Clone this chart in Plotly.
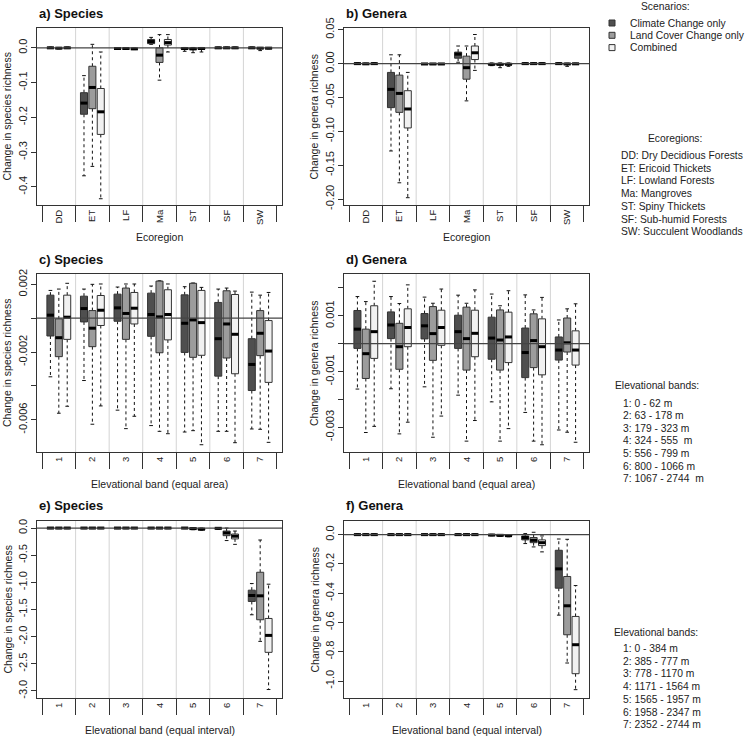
import plotly.graph_objects as go

# ---------------- data ----------------
scenarios = ["Climate Change only", "Land Cover Change only", "Combined"]
ecoregions = ["DD", "ET", "LF", "Ma", "ST", "SF", "SW"]
bands = ["1", "2", "3", "4", "5", "6", "7"]

# five-number summaries per category: (lower whisker, Q1, median, Q3, upper whisker)
a_cc = [(-0.002, -0.001, 0.0, 0.001, 0.002), (-0.368, -0.191, -0.159, -0.129, -0.080),
        (-0.004, -0.003, -0.002, -0.001, 0.0), (0.010, 0.012, 0.018, 0.024, 0.030),
        (-0.010, -0.004, -0.002, 0.0, 0.001), (-0.002, -0.001, 0.0, 0.001, 0.002),
        (-0.002, -0.001, 0.0, 0.001, 0.002)]
a_lc = [(-0.003, -0.002, -0.001, 0.0, 0.001), (-0.341, -0.175, -0.114, -0.053, 0.010),
        (-0.004, -0.003, -0.002, -0.001, 0.0), (-0.093, -0.042, -0.021, 0.0, 0.038),
        (-0.014, -0.005, -0.003, -0.001, 0.001), (-0.002, -0.001, 0.0, 0.001, 0.002),
        (-0.008, -0.002, -0.001, 0.0, 0.001)]
a_cb = [(-0.002, -0.001, 0.0, 0.001, 0.002), (-0.434, -0.249, -0.184, -0.117, -0.012),
        (-0.005, -0.004, -0.003, -0.002, -0.001), (-0.012, 0.008, 0.015, 0.024, 0.038),
        (-0.012, -0.004, -0.002, 0.0, 0.001), (-0.002, -0.001, 0.0, 0.001, 0.002),
        (-0.003, -0.002, -0.001, 0.0, 0.001)]

b_cc = [(-0.001, -0.0005, 0.0, 0.0005, 0.001), (-0.129, -0.065, -0.038, -0.013, 0.013),
        (-0.001, -0.0008, -0.0005, -0.0002, 0.0), (0.002, 0.008, 0.014, 0.017, 0.026),
        (-0.003, -0.0015, -0.001, 0.0, 0.001), (-0.001, -0.0005, 0.0, 0.0005, 0.001),
        (-0.001, -0.0005, 0.0, 0.0005, 0.001)]
b_lc = [(-0.001, -0.0007, -0.0003, 0.0, 0.0005), (-0.176, -0.072, -0.044, -0.017, 0.013),
        (-0.001, -0.0008, -0.0005, -0.0002, 0.0), (-0.055, -0.023, -0.006, 0.011, 0.026),
        (-0.006, -0.002, -0.001, 0.0, 0.001), (-0.001, -0.0005, 0.0, 0.0005, 0.001),
        (-0.004, -0.001, -0.0005, 0.0, 0.0005)]
b_cb = [(-0.001, -0.0005, 0.0, 0.0005, 0.001), (-0.198, -0.095, -0.067, -0.040, -0.013),
        (-0.001, -0.0008, -0.0005, -0.0002, 0.0), (-0.010, 0.006, 0.016, 0.026, 0.043),
        (-0.004, -0.0015, -0.001, 0.0, 0.001), (-0.001, -0.0005, 0.0, 0.0005, 0.001),
        (-0.001, -0.0007, -0.0003, 0.0, 0.0005)]

c_cc = [(-0.00346, -0.00105, 0.00018, 0.00136, 0.00164), (-0.00368, -0.00022, 0.00057, 0.00130, 0.00172),
        (-0.00543, -0.00018, 0.00061, 0.00142, 0.00184), (-0.00634, -0.00107, 0.00022, 0.00148, 0.00190),
        (-0.00672, -0.00202, -0.00030, 0.00138, 0.00186), (-0.00668, -0.00342, -0.00121, 0.00093, 0.00172),
        (-0.00654, -0.00427, -0.00273, -0.00121, 0.00154)]
c_lc = [(-0.00561, -0.00227, -0.00115, -0.00004, 0.00172), (-0.00626, -0.00168, -0.00059, 0.00045, 0.00200),
        (-0.00652, -0.00125, 0.00028, 0.00178, 0.00202), (-0.00668, -0.00204, 0.00008, 0.00219, 0.00221),
        (-0.00664, -0.00231, -0.00010, 0.00206, 0.00208), (-0.00668, -0.00235, -0.00034, 0.00162, 0.00178),
        (-0.00656, -0.00221, -0.00089, 0.00045, 0.00136)]
c_cb = [(-0.00520, -0.00125, 0.00006, 0.00136, 0.00206), (-0.00518, -0.00043, 0.00047, 0.00134, 0.00202),
        (-0.00579, -0.00034, 0.00059, 0.00152, 0.00202), (-0.00682, -0.00128, 0.00022, 0.00168, 0.00202),
        (-0.00747, -0.00219, -0.00026, 0.00164, 0.00182), (-0.00735, -0.00328, -0.00095, 0.00140, 0.00160),
        (-0.00733, -0.00379, -0.00194, -0.00014, 0.00152)]

d_cc = [(-0.00163, -0.00017, 0.00052, 0.00119, 0.00169), (-0.00162, 0.00018, 0.00067, 0.00114, 0.00169),
        (-0.00155, 0.00017, 0.00064, 0.00108, 0.00167), (-0.00185, -0.00017, 0.00043, 0.00102, 0.00174),
        (-0.00209, -0.00056, 0.00020, 0.00095, 0.00178), (-0.00247, -0.00122, -0.00032, 0.00056, 0.00175),
        (-0.00310, -0.00059, -0.00023, 0.00024, 0.00085)]
d_lc = [(-0.00319, -0.00125, -0.00036, 0.00052, 0.00151), (-0.00324, -0.00092, -0.00011, 0.00073, 0.00144),
        (-0.00336, -0.00060, 0.00036, 0.00133, 0.00145), (-0.00350, -0.00095, 0.00018, 0.00131, 0.00145),
        (-0.00350, -0.00095, 0.00013, 0.00121, 0.00136), (-0.00350, -0.00086, 0.00011, 0.00107, 0.00121),
        (-0.00318, -0.00030, 0.00003, 0.00092, 0.00125)]
d_cb = [(-0.00297, -0.00053, 0.00043, 0.00136, 0.00224), (-0.00282, -0.00011, 0.00058, 0.00125, 0.00211),
        (-0.00260, -0.00006, 0.00058, 0.00120, 0.00196), (-0.00276, -0.00047, 0.00037, 0.00120, 0.00193),
        (-0.00305, -0.00068, 0.00024, 0.00113, 0.00190), (-0.00363, -0.00112, -0.00011, 0.00089, 0.00166),
        (-0.00354, -0.00077, -0.00023, 0.00046, 0.00143)]

e_cc = [(-0.01, -0.005, 0.0, 0.005, 0.01), (-0.01, -0.005, 0.0, 0.005, 0.01),
        (-0.01, -0.005, 0.0, 0.005, 0.01), (-0.01, -0.005, 0.0, 0.005, 0.01),
        (-0.01, -0.005, 0.0, 0.005, 0.01), (-0.02, -0.01, -0.005, 0.0, 0.005),
        (-1.597, -1.352, -1.242, -1.144, -1.022)]
e_lc = [(-0.01, -0.005, 0.0, 0.005, 0.01), (-0.01, -0.005, 0.0, 0.005, 0.01),
        (-0.01, -0.005, 0.0, 0.005, 0.01), (-0.01, -0.005, 0.0, 0.005, 0.01),
        (-0.03, -0.02, -0.01, 0.0, 0.005), (-0.23, -0.14, -0.09, -0.055, 0.0),
        (-2.087, -1.689, -1.248, -0.814, -0.22)]
e_cb = [(-0.01, -0.005, 0.0, 0.005, 0.01), (-0.01, -0.005, 0.0, 0.005, 0.01),
        (-0.01, -0.005, 0.0, 0.005, 0.01), (-0.01, -0.005, 0.0, 0.005, 0.01),
        (-0.04, -0.03, -0.02, -0.01, 0.0), (-0.30, -0.20, -0.15, -0.11, -0.055),
        (-2.974, -2.289, -1.977, -1.665, -1.034)]

f_cc = [(-0.004, -0.002, 0.0, 0.002, 0.004), (-0.004, -0.002, 0.0, 0.002, 0.004),
        (-0.004, -0.002, 0.0, 0.002, 0.004), (-0.004, -0.002, 0.0, 0.002, 0.004),
        (-0.008, -0.005, -0.003, 0.0, 0.002), (-0.061, -0.036, -0.020, -0.009, 0.007),
        (-0.55, -0.366, -0.234, -0.107, -0.03)]
f_lc = [(-0.004, -0.002, 0.0, 0.002, 0.004), (-0.004, -0.002, 0.0, 0.002, 0.004),
        (-0.004, -0.002, 0.0, 0.002, 0.004), (-0.004, -0.002, 0.0, 0.002, 0.004),
        (-0.012, -0.008, -0.005, -0.002, 0.0), (-0.084, -0.055, -0.039, -0.020, 0.016),
        (-0.877, -0.684, -0.486, -0.286, -0.032)]
f_cb = [(-0.004, -0.002, 0.0, 0.002, 0.004), (-0.004, -0.002, 0.0, 0.002, 0.004),
        (-0.004, -0.002, 0.0, 0.002, 0.004), (-0.004, -0.002, 0.0, 0.002, 0.004),
        (-0.015, -0.010, -0.007, -0.004, 0.0), (-0.118, -0.075, -0.055, -0.036, -0.009),
        (-1.059, -0.95, -0.752, -0.559, -0.348)]

a_ticks = [0.0, -0.1, -0.2, -0.3, -0.4]
a_labels = ["0.0", "-0.1", "-0.2", "-0.3", "-0.4"]
b_ticks = [0.05, 0.0, -0.05, -0.10, -0.15, -0.20]
b_labels = ["0.05", "0.00", "-0.05", "-0.10", "-0.15", "-0.20"]
c_ticks = [0.002, 0.0, -0.002, -0.004, -0.006]
c_labels = ["0.002", "", "-0.002", "", "-0.006"]
d_ticks = [0.002, 0.001, 0.0, -0.001, -0.002, -0.003]
d_labels = ["", "0.001", "", "-0.001", "", "-0.003"]
e_ticks = [0.0, -0.5, -1.0, -1.5, -2.0, -2.5, -3.0]
e_labels = ["0.0", "-0.5", "-1.0", "-1.5", "-2.0", "-2.5", "-3.0"]
f_ticks = [0.0, -0.2, -0.4, -0.6, -0.8, -1.0]
f_labels = ["0.0", "-0.2", "-0.4", "-0.6", "-0.8", "-1.0"]

ecoregion_names = ["DD: Dry Decidious Forests", "ET: Ericoid Thickets", "LF: Lowland Forests",
                   "Ma: Mangroves", "ST: Spiny Thickets", "SF: Sub-humid Forests",
                   "SW: Succulent Woodlands"]
area_bands = ["1: 0 - 62 m", "2: 63 - 178 m", "3: 179 - 323 m", "4: 324 - 555  m",
              "5: 556 - 799 m", "6: 800 - 1066 m", "7: 1067 - 2744  m"]
interval_bands = ["1: 0 - 384 m", "2: 385 - 777 m", "3: 778 - 1170 m", "4: 1171 - 1564 m",
                  "5: 1565 - 1957 m", "6: 1958 - 2347 m", "7: 2352 - 2744 m"]

# ---------------- styling ----------------
W, H = 746, 738
FONT = "Liberation Sans, Arial, sans-serif"
fills = ["#4f4f4f", "#9c9c9c", "#f1f1f1"]
offsets = [-0.25, 0.0, 0.25]
BOXW = 0.21
CAPW = 0.055

panels = [
    dict(title="a) Species", data=[a_cc, a_lc, a_cb], cats=ecoregions, rng=[-0.452, 0.057],
         ticks=a_ticks, labels=a_labels, ytitle="Change in species richness", xtitle="Ecoregion",
         px=(37, 282, 28, 205)),
    dict(title="b) Genera", data=[b_cc, b_lc, b_cb], cats=ecoregions, rng=[-0.2088, 0.0526],
         ticks=b_ticks, labels=b_labels, ytitle="Change in genera richness", xtitle="Ecoregion",
         px=(344, 589, 28, 205)),
    dict(title="c) Species", data=[c_cc, c_lc, c_cb], cats=bands, rng=[-0.0079, 0.00261],
         ticks=c_ticks, labels=c_labels, ytitle="Change in species richness",
         xtitle="Elevational band (equal area)", px=(37, 282, 274, 452)),
    dict(title="d) Genera", data=[d_cc, d_lc, d_cb], cats=bands, rng=[-0.00389, 0.0025],
         ticks=d_ticks, labels=d_labels, ytitle="Change in genera richness",
         xtitle="Elevational band (equal area)", px=(344, 589, 274, 452)),
    dict(title="e) Species", data=[e_cc, e_lc, e_cb], cats=bands, rng=[-3.13, 0.13],
         ticks=e_ticks, labels=e_labels, ytitle="Change in species richness",
         xtitle="Elevational band (equal interval)", px=(37, 282, 521, 698)),
    dict(title="f) Genera", data=[f_cc, f_lc, f_cb], cats=bands, rng=[-1.116, 0.093],
         ticks=f_ticks, labels=f_labels, ytitle="Change in genera richness",
         xtitle="Elevational band (equal interval)", px=(344, 589, 521, 698)),
]

fig = go.Figure()
shapes = []
annotations = []
layout = {}


def px2x(x):
    return x / W


def px2y(y):
    return 1 - y / H


for pi, p in enumerate(panels):
    n = pi + 1
    xa = "x" if n == 1 else f"x{n}"
    ya = "y" if n == 1 else f"y{n}"
    xl = "xaxis" if n == 1 else f"xaxis{n}"
    yl = "yaxis" if n == 1 else f"yaxis{n}"
    x0, x1, y0, y1 = p["px"]
    ncat = len(p["cats"])
    pos = list(range(1, ncat + 1))

    for j, series in enumerate(p["data"]):
        wx, wy, cx, cy = [], [], [], []
        for c, (lo, q1, med, q3, hi) in zip(pos, series):
            xc = c + offsets[j]
            wx += [xc, xc, None, xc, xc, None]
            wy += [q3, hi, None, q1, lo, None]
            cx += [xc - CAPW, xc + CAPW, None, xc - CAPW, xc + CAPW, None]
            cy += [hi, hi, None, lo, lo, None]
        fig.add_trace(go.Scatter(x=wx, y=wy, xaxis=xa, yaxis=ya, mode="lines",
                                 line=dict(color="#111", width=1, dash="3px,3px"),
                                 hoverinfo="skip", showlegend=False))
        fig.add_trace(go.Scatter(x=cx, y=cy, xaxis=xa, yaxis=ya, mode="lines",
                                 line=dict(color="#111", width=1),
                                 hoverinfo="skip", showlegend=False))
    for j, series in enumerate(p["data"]):
        bx, by, mx, my = [], [], [], []
        for c, (lo, q1, med, q3, hi) in zip(pos, series):
            xc = c + offsets[j]
            bx += [xc - BOXW / 2, xc + BOXW / 2, xc + BOXW / 2, xc - BOXW / 2, xc - BOXW / 2, None]
            by += [q1, q1, q3, q3, q1, None]
            mx += [xc - BOXW / 2, xc + BOXW / 2, None]
            my += [med, med, None]
        fig.add_trace(go.Scatter(x=bx, y=by, xaxis=xa, yaxis=ya, mode="lines", fill="toself",
                                 fillcolor=fills[j], line=dict(color="#333", width=1),
                                 name=scenarios[j], hoverinfo="skip", showlegend=False))
        fig.add_trace(go.Scatter(x=mx, y=my, xaxis=xa, yaxis=ya, mode="lines",
                                 line=dict(color="#000", width=3),
                                 hoverinfo="skip", showlegend=False))

    layout[xl] = dict(
        domain=[px2x(x0), px2x(x1)], anchor=ya, range=[0.35, ncat + 0.65], automargin=False,
        tickmode="array", tickvals=pos, ticktext=p["cats"], ticks="", tickangle=-90,
        tickfont=dict(family=FONT, size=9.5, color="#222"),
        minor=dict(tickmode="array", tickvals=[k + 0.5 for k in range(0, ncat + 1)],
                   ticks="outside", ticklen=16, tickcolor="#333", tickwidth=1, showgrid=False),
        showline=True, mirror=True, linecolor="#333", linewidth=1,
        showgrid=False, zeroline=False, fixedrange=True)
    layout[yl] = dict(
        domain=[px2y(y1), px2y(y0)], anchor=xa, range=p["rng"], automargin=False,
        tickmode="array", tickvals=p["ticks"], ticktext=p["labels"],
        ticks="outside", ticklen=5, tickcolor="#333", tickangle=-90,
        tickfont=dict(family=FONT, size=11, color="#222"),
        showline=True, mirror=True, linecolor="#333", linewidth=1,
        showgrid=False, zeroline=False, fixedrange=True)

    for k in range(1, ncat):
        shapes.append(dict(type="line", xref=xa, yref=f"{ya} domain", x0=k + 0.5, x1=k + 0.5,
                           y0=0, y1=1, line=dict(color="#d4d4d4", width=1), layer="below"))
    shapes.append(dict(type="line", xref=f"{xa} domain", yref=ya, x0=0, x1=1, y0=0, y1=0,
                       line=dict(color="#444", width=1.3), layer="above"))

    annotations.append(dict(text=f"<b>{p['title']}</b>", x=px2x(x0), y=px2y(y0 - 15),
                            xref="paper", yref="paper", xanchor="left", yanchor="middle",
                            showarrow=False, font=dict(family=FONT, size=13, color="#111")))
    annotations.append(dict(text=p["ytitle"], x=px2x(x0 - 30), y=px2y((y0 + y1) / 2),
                            xref="paper", yref="paper", xanchor="center", yanchor="middle",
                            textangle=-90, showarrow=False,
                            font=dict(family=FONT, size=10.5, color="#222")))
    annotations.append(dict(text=p["xtitle"], x=px2x((x0 + x1) / 2), y=px2y(y1 + 32),
                            xref="paper", yref="paper", xanchor="center", yanchor="middle",
                            showarrow=False, font=dict(family=FONT, size=10.5, color="#222")))

# ---------------- side legends ----------------
TXT = dict(family=FONT, size=10.3, color="#222")
annotations.append(dict(text="Scenarios:", x=px2x(665), y=px2y(7), xref="paper", yref="paper",
                        xanchor="center", yanchor="middle", showarrow=False, font=TXT))
for j, name in enumerate(scenarios):
    yc = 23 + 12.3 * j
    shapes.append(dict(type="rect", xref="paper", yref="paper",
                       x0=px2x(609), x1=px2x(615), y0=px2y(yc + 3), y1=px2y(yc - 3),
                       fillcolor=fills[j], line=dict(color="#333", width=1)))
    annotations.append(dict(text=name, x=px2x(628), y=px2y(yc), xref="paper", yref="paper",
                            xanchor="left", yanchor="middle", showarrow=False, font=TXT))

annotations.append(dict(text="Ecoregions:", x=px2x(675), y=px2y(139), xref="paper", yref="paper",
                        xanchor="center", yanchor="middle", showarrow=False, font=TXT))
for k, t in enumerate(ecoregion_names):
    annotations.append(dict(text=t, x=px2x(619), y=px2y(155.5 + 12.7 * k), xref="paper", yref="paper",
                            xanchor="left", yanchor="middle", showarrow=False, font=TXT))

annotations.append(dict(text="Elevational bands:", x=px2x(613), y=px2y(386), xref="paper", yref="paper",
                        xanchor="left", yanchor="middle", showarrow=False, font=TXT))
for k, t in enumerate(area_bands):
    annotations.append(dict(text=t, x=px2x(621), y=px2y(403 + 12.6 * k), xref="paper", yref="paper",
                            xanchor="left", yanchor="middle", showarrow=False, font=TXT))

annotations.append(dict(text="Elevational bands:", x=px2x(612), y=px2y(632), xref="paper", yref="paper",
                        xanchor="left", yanchor="middle", showarrow=False, font=TXT))
for k, t in enumerate(interval_bands):
    annotations.append(dict(text=t, x=px2x(621), y=px2y(648.5 + 12.7 * k), xref="paper", yref="paper",
                            xanchor="left", yanchor="middle", showarrow=False, font=TXT))

fig.update_layout(
    width=W, height=H, margin=dict(l=0, r=0, t=0, b=0, autoexpand=False),
    paper_bgcolor="white", plot_bgcolor="white", showlegend=False,
    font=dict(family=FONT, size=11, color="#222"),
    shapes=shapes, annotations=annotations, **layout)

fig.write_html("out.html", config={"displayModeBar": False},
               post_script="document.body.style.margin='0px';document.body.style.overflow='hidden';")
